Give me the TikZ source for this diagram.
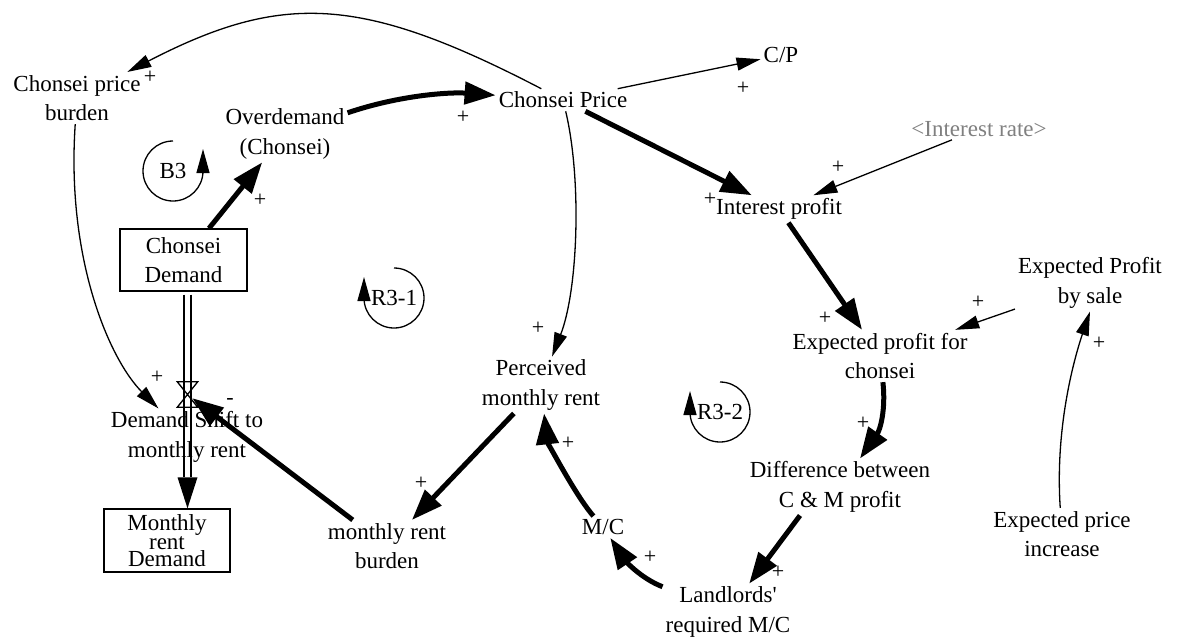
\documentclass[tikz,border=0pt]{standalone}
\usepackage{fontspec}
\setmainfont{Liberation Serif}
\usetikzlibrary{arrows.meta,calc}
\newcommand\varfont{\fontsize{23}{29.5}\selectfont}
\newcommand\signfont{\fontsize{22}{22}\selectfont}
\definecolor{shadowgray}{RGB}{128,128,128}
\begin{document}
\begin{tikzpicture}[x=1pt,y=-1pt,
  var/.style={font=\varfont, align=center, inner sep=3pt},
  stockbox/.style={var, draw, line width=1.3pt, minimum width=127pt, minimum height=62pt, inner sep=0pt},
  sign/.style={font=\signfont, inner sep=0pt},
  thinarrow/.style={line width=1.3pt, -{Triangle[length=24pt,width=13pt]}},
  thickarrow/.style={line width=5pt, -{Triangle[length=31pt,width=22pt]}},
  loopline/.style={line width=1.3pt, -{Triangle[length=24pt,width=13pt]}},
  pipe/.style={line width=1.3pt},
  valveshape/.style={minimum width=20pt, minimum height=25pt, inner sep=0pt},
  looplabel/.style={var, inner sep=0pt},
]
\useasboundingbox (0,0) rectangle (1188,640);
\fill[white] (0,0) rectangle (1188,640);

% variables
\node[var] (cpb) at (77,98) {Chonsei price\\burden};
\node[var] (ovd) at (285,134) {Overdemand\\(Chonsei)};
\node[var] (cprice) at (563,100) {Chonsei Price};
\node[var] (cp) at (781,55) {C/P};
\node[var, text=shadowgray] (irate) at (979,129) {<Interest rate>};
\node[var] (ip) at (779,209) {Interest profit};
\node[var] (epc) at (880,356) {Expected profit for\\chonsei};
\node[var] (eps) at (1090,283) {Expected Profit\\by sale};
\node[var] (epi) at (1062,534) {Expected price\\increase};
\node[var] (diff) at (840,487) {Difference between\\C \& M profit};
\node[var] (lmc) at (728,612) {Landlords\textquotesingle\\required M/C};
\node[var] (mc) at (603,527) {M/C};
\node[var] (pmr) at (541,385) {Perceived\\monthly rent};
\node[var] (mrb) at (387,546) {monthly rent\\burden};
\node[var] (dsm) at (187,437) {Demand Shift to\\monthly rent};

% stocks and flow valve
\node[stockbox] (cd) at (183.5,260) {Chonsei\\Demand};
\node[stockbox, minimum width=126pt, minimum height=63pt, font=\fontsize{23}{16}\selectfont] (mrd) at (167,540.5) {Monthly\\rent\\Demand};
\node[valveshape] (valve) at (187.5,394.5) {};

% loop labels
\node[looplabel] (b3) at (173,171) {B3};
\node[looplabel] (r31) at (394,298) {R3-1};
\node[looplabel] (r32) at (720,412) {R3-2};

% loop markers
\draw[loopline] ([yshift=30pt]b3.center) arc[start angle=90, end angle=360, radius=30pt] -- ++(0pt,22pt);
\draw[loopline] ([yshift=30pt]r31.center) arc[start angle=90, end angle=-180, radius=30pt] -- ++(0pt,21pt);
\draw[loopline] ([yshift=30pt]r32.center) arc[start angle=90, end angle=-180, radius=30pt] -- ++(0pt,21pt);

% flow pipe
\draw[pipe] ($(valve |- cd.south)+(-3.5,3)$) -- ($(valve |- mrd.north)+(-3.5,-31)$);
\draw[pipe] ($(valve |- cd.south)+(3.5,3)$) -- ($(valve |- mrd.north)+(3.5,-31)$);
\fill ($(valve |- mrd.north)+(-10,-31)$) -- ($(valve |- mrd.north)+(10,-31)$) -- (valve |- mrd.north) -- cycle;
\draw[line width=1.3pt] (valve.north west) -- (valve.north east) -- (valve.south west) -- (valve.south east) -- cycle;

% causal links
\draw[thinarrow] (cprice) .. controls (361,-5) and (282,-8) .. (cpb);
\draw[thickarrow] (cd) -- (ovd);
\draw[thickarrow] (ovd) .. controls (400,95) and (450,92) .. (cprice);
\draw[thinarrow] (cprice) -- (cp);
\draw[thickarrow] (cprice) -- (ip);
\draw[thinarrow] (irate) -- (ip);
\draw[thinarrow] (cprice) .. controls (582,180) and (578,290) .. (pmr);
\draw[thickarrow] (ip) -- (epc);
\draw[thinarrow] (eps) -- (epc);
\draw[thinarrow] (epi) .. controls (1055,430) and (1073,362) .. (eps.south);
\draw[thickarrow] (epc) .. controls (886,410) and (880,430) .. (diff);
\draw[thickarrow] ([xshift=-40pt]diff.south) -- (lmc);
\draw[thickarrow] (lmc) .. controls (640,578) and (625,560) .. (mc);
\draw[thickarrow] (mc) .. controls (575,495) and (547,440) .. (pmr);
\draw[thickarrow] (pmr) -- (mrb);
\draw[thickarrow, shorten >=6pt] (mrb) -- (valve.center);
\draw[thinarrow] (cpb) .. controls (66,260) and (110,360) .. (dsm);

% polarities
\node[sign] (s1) at (150,77) {+};
\node[sign] (s2) at (260,200) {+};
\node[sign] (s3) at (463,117) {+};
\node[sign] (s4) at (743,88) {+};
\node[sign] (s5) at (710,199) {+};
\node[sign] (s6) at (838,167) {+};
\node[sign] (s7) at (538,328) {+};
\node[sign] (s8) at (825,318) {+};
\node[sign] (s9) at (978,302) {+};
\node[sign] (s10) at (1099,343) {+};
\node[sign] (s11) at (863,423) {+};
\node[sign] (s12) at (778,572) {+};
\node[sign] (s13) at (650,557) {+};
\node[sign] (s14) at (568,443) {+};
\node[sign] (s15) at (421,483) {+};
\node[sign] (s16) at (157,377) {+};
\node[sign] (m1) at (230,401) {-};
\end{tikzpicture}
\end{document}
